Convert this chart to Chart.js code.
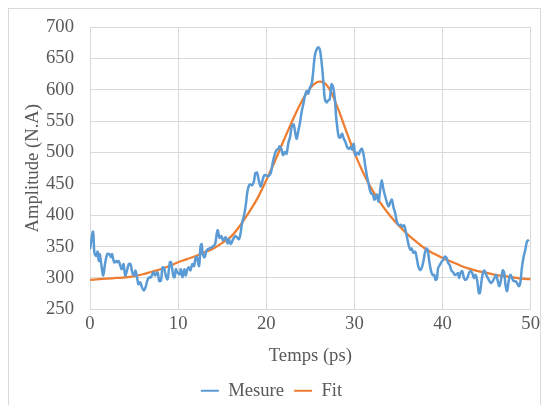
<!DOCTYPE html>
<html>
<head>
<meta charset="utf-8">
<script src="https://cdn.jsdelivr.net/npm/chart.js@4/dist/chart.umd.min.js"></script>
<style>
  html, body { margin: 0; padding: 0; background: #fff; }
  #wrap { width: 544px; height: 405px; position: relative; }
</style>
</head>
<body>
<div id="wrap"><canvas id="chart"></canvas></div>
<script>
// Mesure (blue)
const mesureTime = [
  0.0, 0.35, 0.5, 0.7, 0.86, 1.0, 1.1, 1.3, 1.5, 1.7, 1.95, 2.2, 2.4, 2.5, 2.75, 3.0, 3.1, 3.25, 3.5, 3.6,
  3.8, 4.0, 4.2, 4.4, 4.6, 4.8, 5.0, 5.15, 5.3, 5.5, 5.7, 5.9, 6.1, 6.3, 6.5, 6.7, 6.9, 7.2, 7.4, 7.67,
  7.86, 8.05, 8.23, 8.4, 8.6, 8.8, 9.06, 9.2, 9.44, 9.6, 9.74, 9.92, 10.2, 10.3, 10.5, 10.7, 10.86, 11.05, 11.24, 11.4,
  11.6, 11.8, 12.0, 12.14, 12.37, 12.55, 12.67, 12.8, 13.0, 13.2, 13.4, 13.7, 14.0, 14.2, 14.4, 14.5, 14.7, 14.9, 15.1, 15.4,
  15.6, 15.75, 15.98, 16.24, 16.5, 16.73, 16.9, 17.07, 17.26, 17.5, 17.7, 17.86, 18.05, 18.2, 18.4, 18.6, 18.76, 18.95, 19.1, 19.36,
  19.55, 19.74, 19.96, 20.2, 20.5, 20.75, 20.94, 21.16, 21.4, 21.5, 21.7, 21.9, 22.1, 22.3, 22.5, 22.7, 22.9, 23.1, 23.27, 23.45,
  23.64, 23.83, 24.0, 24.2, 24.4, 24.6, 24.77, 24.96, 25.15, 25.33, 25.5, 25.7, 25.9, 26.1, 26.3, 26.5, 26.65, 26.84, 27.0, 27.2,
  27.4, 27.55, 27.65, 27.8, 27.93, 28.08, 28.23, 28.4, 28.6, 28.8, 28.98, 29.17, 29.36, 29.55, 29.74, 29.92, 30.1, 30.3, 30.5, 30.68,
  30.86, 31.05, 31.24, 31.43, 31.6, 31.8, 31.9, 32.1, 32.26, 32.4, 32.56, 32.74, 32.93, 33.1, 33.3, 33.5, 33.7, 33.87, 34.06, 34.25,
  34.44, 34.6, 34.8, 34.9, 35.07, 35.26, 35.45, 35.64, 35.8, 36.0, 36.2, 36.35, 36.5, 36.7, 36.9, 37.07, 37.26, 37.44, 37.63, 37.82,
  38.0, 38.2, 38.35, 38.5, 38.7, 38.87, 39.06, 39.2, 39.36, 39.5, 39.7, 39.9, 40.07, 40.26, 40.45, 40.64, 40.8, 41.0, 41.2, 41.4,
  41.6, 41.77, 41.87, 42.06, 42.24, 42.43, 42.62, 42.81, 43.0, 43.18, 43.37, 43.56, 43.75, 43.94, 44.12, 44.24, 44.39, 44.58, 44.76, 44.95,
  45.14, 45.33, 45.5, 45.7, 45.9, 46.08, 46.27, 46.45, 46.64, 46.83, 47.0, 47.13, 47.32, 47.5, 47.7, 47.88, 48.07, 48.26, 48.45, 48.64,
  48.82, 49.0, 49.2, 49.39, 49.58, 49.8
];
const mesureAmp = [
  346, 374, 340, 335, 342, 327, 338, 320, 304, 322, 338, 338, 333, 338, 325, 327, 325, 327, 317, 314,
  322, 304, 312, 322, 322, 309, 304, 312, 304, 290, 293, 285, 280, 285, 296, 301, 301, 309, 304, 309,
  295, 296, 317, 316, 304, 298, 325, 325, 304, 301, 314, 309, 306, 314, 301, 314, 304, 314, 317, 312,
  322, 319, 333, 333, 319, 351, 354, 338, 333, 343, 346, 348, 351, 354, 372, 376, 364, 367, 360, 365,
  355, 362, 354, 362, 367, 364, 362, 370, 388, 401, 419, 438, 448, 449, 448, 454, 467, 468, 459, 446,
  454, 463, 464, 462, 467, 485, 496, 504, 506, 510, 506, 496, 501, 498, 515, 525, 542, 545, 533, 522,
  535, 548, 564, 577, 591, 598, 594, 604, 609, 630, 654, 664, 668, 663, 641, 609, 585, 580, 583, 585,
  609, 606, 600, 583, 556, 538, 525, 524, 530, 522, 517, 509, 506, 509, 505, 514, 496, 500, 497, 504,
  506, 496, 478, 462, 451, 438, 435, 433, 425, 427, 433, 422, 441, 456, 441, 430, 420, 414, 420, 425,
  412, 405, 391, 387, 384, 385, 382, 384, 376, 363, 350, 345, 347, 340, 342, 332, 318, 313, 316, 326,
  340, 347, 342, 326, 311, 305, 305, 297, 299, 316, 321, 326, 329, 334, 332, 324, 321, 312, 309, 305,
  306, 308, 300, 308, 311, 300, 297, 300, 308, 311, 308, 300, 305, 295, 276, 276, 292, 308, 312, 305,
  300, 295, 292, 295, 300, 305, 295, 287, 297, 312, 308, 290, 279, 295, 305, 300, 295, 295, 292, 287,
  292, 316, 334, 345, 358, 361
];

// Fit (orange)
const fitTime = [
  0, 1, 2, 3, 4, 5, 6, 7, 8, 9, 10, 11, 12, 13, 14, 15, 16, 17, 18, 19, 20, 21, 22, 23, 24, 25,
  26, 27, 28, 29, 30, 31, 32, 33, 34, 35, 36, 37, 38, 39, 40, 41, 42, 43, 44, 45, 46, 47, 48, 49, 50
];
const fitAmp = [
  297, 298, 299, 300, 301, 303, 306, 310, 314, 319, 325, 330, 335, 341, 347, 356, 366, 383, 404, 427, 456, 487, 520, 552, 581, 603,
  613, 605, 575, 537, 500, 468, 441, 419, 400, 384, 370, 358, 347, 339, 332, 326, 320, 315, 311, 308, 305, 303, 301, 299, 298
];

const xTicks = [0, 10, 20, 30, 40, 50];
const yMin = 250, yMax = 700, yStep = 50;

const textColor = '#595959';
const gridColor = '#d9d9d9';
const serif = 'Liberation Serif';
const fontSize = 18.67;

const toPoints = (xs, ys) => xs.map((x, i) => ({ x: x, y: ys[i] }));

// light frame around the whole chart, like the spreadsheet chart area
const frame = {
  id: 'frame',
  beforeDraw(chart) {
    const ctx = chart.ctx;
    ctx.save();
    ctx.fillStyle = '#fff';
    ctx.fillRect(0, 0, chart.width, chart.height);
    ctx.strokeStyle = gridColor;
    ctx.lineWidth = 1;
    ctx.strokeRect(8.5, 8.5, 532, 420);
    ctx.restore();
  }
};

new Chart(document.getElementById('chart'), {
  type: 'line',
  data: {
    datasets: [
      {
        label: 'Mesure',
        data: toPoints(mesureTime, mesureAmp),
        borderColor: '#5B9BD5',
        backgroundColor: '#5B9BD5',
        borderWidth: 2.5,
        pointRadius: 0,
        tension: 0.35
      },
      {
        label: 'Fit',
        data: toPoints(fitTime, fitAmp),
        borderColor: '#ED7D31',
        backgroundColor: '#ED7D31',
        borderWidth: 2.25,
        pointRadius: 0,
        tension: 0.4
      }
    ]
  },
  options: {
    responsive: true,
    maintainAspectRatio: false,
    animation: false,
    layout: { padding: { left: 10, right: 11, top: 24, bottom: -5 } },
    plugins: {
      tooltip: { enabled: false },
      legend: {
        position: 'bottom',
        labels: {
          color: textColor,
          font: { family: serif, size: fontSize },
          boxWidth: 18,
          boxHeight: 2,
          padding: 10,
          generateLabels(chart) {
            const items = Chart.defaults.plugins.legend.labels.generateLabels(chart);
            items.forEach(it => { it.lineWidth = 0; it.fillStyle = it.strokeStyle; });
            return items;
          }
        }
      }
    },
    scales: {
      x: {
        type: 'linear',
        min: 0,
        max: 50,
        afterFit: s => { s.height = 62; },
        afterBuildTicks: s => { s.ticks = xTicks.map(v => ({ value: v })); },
        grid: { color: gridColor, drawTicks: false },
        border: { color: gridColor },
        ticks: { color: textColor, font: { family: serif, size: fontSize }, padding: 4, maxRotation: 0 },
        title: {
          display: true,
          text: 'Temps (ps)',
          color: textColor,
          font: { family: serif, size: fontSize },
          padding: { top: 0, bottom: 4 }
        }
      },
      y: {
        min: yMin,
        max: yMax,
        afterFit: s => { s.width = 80; },
        grid: { color: gridColor, drawTicks: false },
        border: { color: gridColor },
        ticks: { stepSize: yStep, color: textColor, font: { family: serif, size: fontSize }, padding: 16 },
        title: {
          display: true,
          text: 'Amplitude (N.A)',
          color: textColor,
          font: { family: serif, size: fontSize },
          padding: { top: 12, bottom: 0 }
        }
      }
    }
  },
  plugins: [frame]
});
</script>
</body>
</html>
